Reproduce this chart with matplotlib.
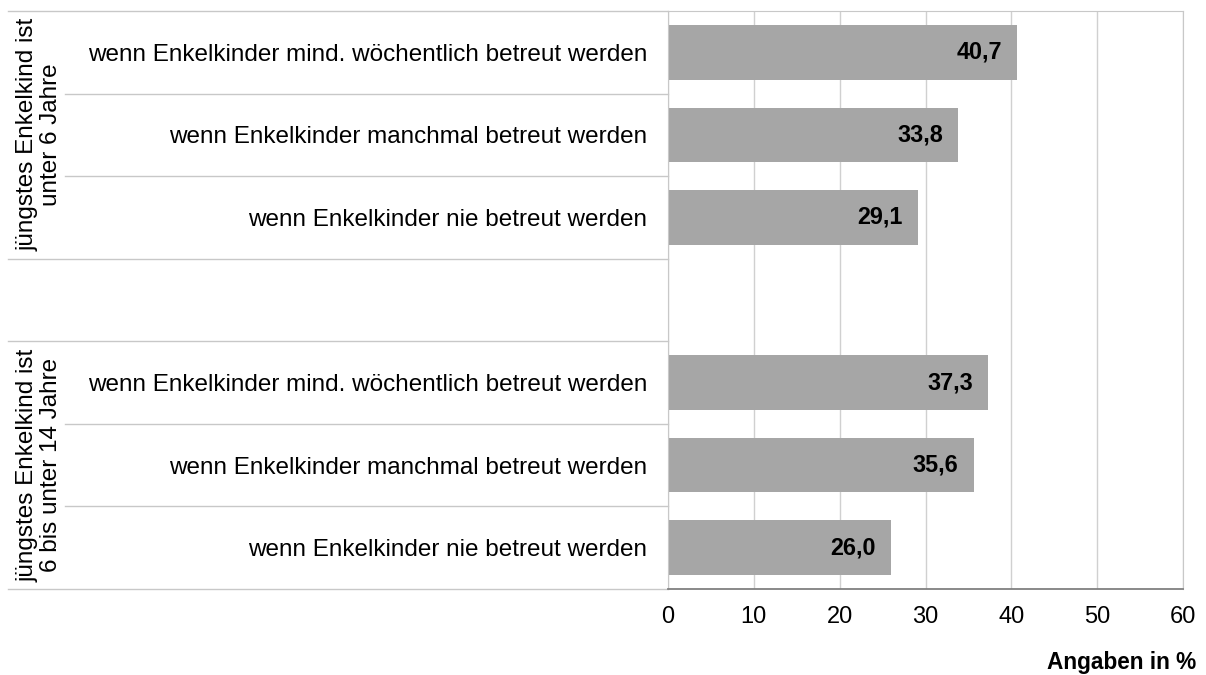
import matplotlib.pyplot as plt
import matplotlib.transforms as mtransforms

plt.rcParams['font.family'] = ['Liberation Sans', 'DejaVu Sans']

categories = ['wenn Enkelkinder mind. wöchentlich betreut werden',
              'wenn Enkelkinder manchmal betreut werden',
              'wenn Enkelkinder nie betreut werden',
              '',
              'wenn Enkelkinder mind. wöchentlich betreut werden',
              'wenn Enkelkinder manchmal betreut werden',
              'wenn Enkelkinder nie betreut werden']
values = [40.7, 33.8, 29.1, None, 37.3, 35.6, 26.0]
groups = ['jüngstes Enkelkind ist\nunter 6 Jahre',
          'jüngstes Enkelkind ist\n6 bis unter 14 Jahre']
xticks = [0, 10, 20, 30, 40, 50, 60]

W, H = 1206, 675
fig = plt.figure(figsize=(W / 100, H / 100), dpi=100)
ax = fig.add_axes([668 / W, 1 - 589 / H, (1183 - 668) / W, (589 - 11) / H])

pos = [i for i, v in enumerate(values) if v is not None]
vals = [v for v in values if v is not None]
ax.barh(pos, vals, height=0.66, color='#a6a6a6', zorder=2)
for p, v in zip(pos, vals):
    ax.text(v - 1.75, p, f'{v:.1f}'.replace('.', ','), ha='right', va='center',
            fontsize=16.8, fontweight='bold', color='black', zorder=3)

ax.set_xlim(0, 60)
ax.set_ylim(len(values) - 0.5, -0.5)
ax.set_xticks(xticks)
ax.set_xticklabels([str(t) for t in xticks], fontsize=17)
ax.set_yticks(range(len(categories)))
ax.set_yticklabels(categories, fontsize=17.5)
ax.tick_params(axis='y', length=0, pad=15)
ax.tick_params(axis='x', length=0, pad=12)
ax.grid(axis='x', color='#d0d0d0', linewidth=1, zorder=0)
ax.set_axisbelow(True)

for s in ['top', 'right', 'left']:
    ax.spines[s].set_color('#c8c8c8')
ax.spines['bottom'].set_color('#808080')
ax.spines['bottom'].set_linewidth(1.3)

# separator lines in the label area
trans = mtransforms.blended_transform_factory(ax.transAxes, ax.transData)
outer_x = (8 - 668) / 515
inner_x = (65 - 668) / 515
for y in [-0.5, 2.5, 3.5, 6.5]:
    ax.plot([outer_x, 0], [y, y], transform=trans, color='#c8c8c8',
            linewidth=1, clip_on=False)
for y in [0.5, 1.5, 4.5, 5.5]:
    ax.plot([inner_x, 0], [y, y], transform=trans, color='#c8c8c8',
            linewidth=1, clip_on=False)

# group labels
gx = (39 - 668) / 515
for g, yc in zip(groups, [1, 5]):
    ax.text(gx, yc, g, transform=trans, rotation=90, ha='center', va='center',
            multialignment='center', fontsize=17.5, linespacing=1.1)

fig.text(1196 / W, 1 - 662 / H, 'Angaben in %', ha='right', va='center',
         fontsize=16.3, fontweight='bold')

fig.savefig('out.png', dpi=100)
